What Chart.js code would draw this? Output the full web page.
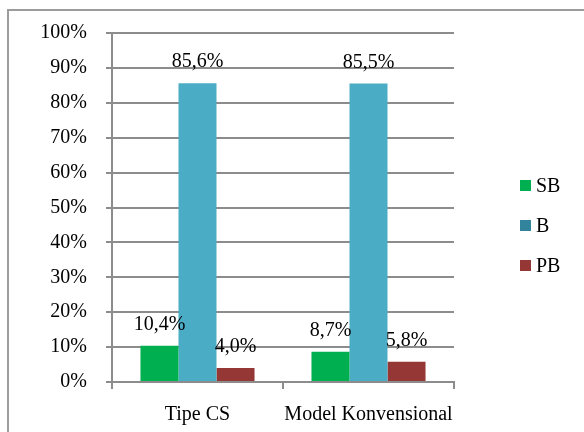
<!DOCTYPE html>
<html>
<head>
<meta charset="utf-8">
<script src="https://cdn.jsdelivr.net/npm/chart.js@4/dist/chart.umd.min.js"></script>
<style>
  html, body { margin: 0; padding: 0; background: #fff; overflow: hidden; }
  .wrap { position: relative; width: 584px; height: 432px; }
  .frame {
    position: absolute; left: 7px; top: 9px; width: 700px; height: 500px;
    border: 2px solid #9c9c9c; pointer-events: none;
  }
  canvas { position: absolute; left: 0; top: 0; }
</style>
</head>
<body>
<div class="wrap">
  <canvas id="chart" width="584" height="432"></canvas>
  <div class="frame"></div>
</div>
<script>
// categories and series
const categories = ['Tipe CS', 'Model Konvensional'];
const seriesNames = ['SB', 'B', 'PB'];
const sbValues = [10.4, 8.7];
const bValues = [85.6, 85.5];
const pbValues = [4.0, 5.8];
const yTicks = [0, 10, 20, 30, 40, 50, 60, 70, 80, 90, 100];

const barColors = ['#00B050', '#4BACC6', '#953735'];
const legendColors = ['#00B050', '#31849B', '#953735'];

const FONT = 'Liberation Serif, Times New Roman, serif';
const GRID = '#8c8c8c';

const fmt = (v) => v.toFixed(1).replace('.', ',') + '%';

// value labels above each bar
const valueLabels = {
  id: 'valueLabels',
  afterDatasetsDraw(chart) {
    const { ctx } = chart;
    ctx.save();
    ctx.font = '20px ' + FONT;
    ctx.fillStyle = '#000';
    ctx.textAlign = 'center';
    ctx.textBaseline = 'alphabetic';
    chart.data.datasets.forEach((ds, i) => {
      chart.getDatasetMeta(i).data.forEach((bar, j) => {
        ctx.fillText(fmt(ds.data[j]), bar.x, bar.y - 16);
      });
    });
    ctx.restore();
  }
};

// legend on the right, with the darker swatch the original shows for B
const sideLegend = {
  id: 'sideLegend',
  afterDraw(chart) {
    const { ctx, chartArea } = chart;
    const x = chartArea.right + 66;
    const midY = (chartArea.top + chartArea.bottom) / 2 + 18;
    ctx.save();
    ctx.font = '20px ' + FONT;
    ctx.textBaseline = 'middle';
    ctx.textAlign = 'left';
    seriesNames.forEach((name, i) => {
      const y = midY + (i - 1) * 40;
      ctx.fillStyle = legendColors[i];
      ctx.fillRect(x, y - 5.5, 11, 11);
      ctx.fillStyle = '#000';
      ctx.fillText(name, x + 16, y + 1);
    });
    ctx.restore();
  }
};

new Chart(document.getElementById('chart'), {
  type: 'bar',
  data: {
    labels: categories,
    datasets: [
      { label: seriesNames[0], data: sbValues, backgroundColor: barColors[0] },
      { label: seriesNames[1], data: bValues, backgroundColor: barColors[1] },
      { label: seriesNames[2], data: pbValues, backgroundColor: barColors[2] }
    ]
  },
  options: {
    responsive: false,
    animation: false,
    layout: { padding: { top: 33, right: 130, bottom: 0, left: 0 } },
    datasets: {
      bar: { categoryPercentage: 0.667, barPercentage: 1.0 }
    },
    plugins: {
      legend: { display: false },
      tooltip: { enabled: false }
    },
    scales: {
      x: {
        grid: {
          display: true,
          drawOnChartArea: false,
          drawTicks: true,
          tickLength: 7,
          color: GRID,
          lineWidth: 2
        },
        border: { color: GRID, width: 2 },
        ticks: {
          color: '#000',
          font: { family: FONT, size: 20 },
          padding: 14,
          autoSkip: false,
          maxRotation: 0,
          minRotation: 0
        },
        afterFit(scale) { scale.height = 50; }
      },
      y: {
        min: 0,
        max: 100,
        afterBuildTicks(scale) { scale.ticks = yTicks.map((v) => ({ value: v })); },
        grid: {
          color: GRID,
          lineWidth: 2,
          drawTicks: true,
          tickLength: 6
        },
        border: { color: GRID, width: 2 },
        ticks: {
          color: '#000',
          font: { family: FONT, size: 20 },
          padding: 19,
          callback: (v) => v + '%'
        },
        afterFit(scale) { scale.width = 112; }
      }
    }
  },
  plugins: [valueLabels, sideLegend]
});
</script>
</body>
</html>
